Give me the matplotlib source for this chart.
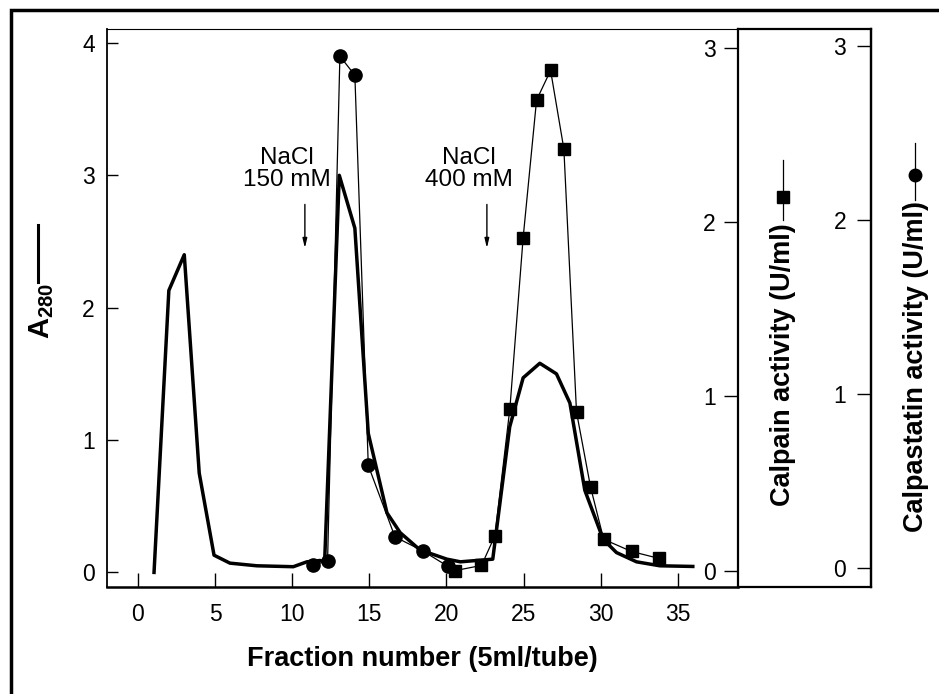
import matplotlib
matplotlib.use("Agg")
import matplotlib.pyplot as plt
from matplotlib.lines import Line2D
from matplotlib.patches import Rectangle

plt.rcParams['font.family'] = ['Liberation Sans', 'DejaVu Sans']
plt.rcParams['mathtext.fontset'] = 'custom'
plt.rcParams['mathtext.rm'] = 'Liberation Sans'
plt.rcParams['mathtext.bf'] = 'Liberation Sans:bold'

# A280 (thick line)
a280_x = [1.04, 2.0, 3.0, 3.97, 4.93, 5.96, 7.7, 10.07, 10.95, 11.8, 12.1, 13.05,
          14.06, 14.93, 16.14, 17.0, 18.28, 20.03, 20.9, 23.0, 24.1, 24.97, 26.05,
          27.13, 28.0, 28.97, 30.16, 31.02, 32.32, 33.83, 35.97]
a280_y = [0.0, 2.13, 2.40, 0.75, 0.13, 0.07, 0.05, 0.043, 0.08, 0.09, 0.08, 3.0,
          2.6, 1.05, 0.45, 0.30, 0.17, 0.10, 0.08, 0.10, 1.10, 1.47, 1.58,
          1.50, 1.28, 0.62, 0.25, 0.15, 0.08, 0.05, 0.045]

# calpain activity (squares)
calpain_x = [20.54, 22.27, 23.14, 24.11, 24.97, 25.84, 26.75, 27.61, 28.43, 29.34,
             30.19, 32.0, 33.79]
calpain_y = [0.0, 0.03, 0.20, 0.93, 1.91, 2.70, 2.87, 2.42, 0.91, 0.48,
             0.18, 0.11, 0.07]

# calpastatin activity (circles)
calpastatin_x = [11.36, 12.29, 13.09, 14.06, 14.93, 16.66, 18.45, 20.11]
calpastatin_y = [0.02, 0.04, 2.94, 2.83, 0.59, 0.18, 0.10, 0.01]

# NaCl steps: (fraction, label)
nacl_steps = [(10.82, "NaCl\n150 mM"), (22.62, "NaCl\n400 mM")]

A280_LIM = (-0.108, 4.103)
CALPAIN_LIM = (-0.092, 3.106)
CALPASTATIN_LIM = (-0.106, 3.094)

W, H = 939, 694


def fx(px):
    return px / W


def fy(py):
    return 1 - py / H


fig = plt.figure(figsize=(9.39, 6.94), dpi=100)

# outer frame of the figure
fig.add_artist(Rectangle((fx(10.5), -0.1), 1.2, fy(10) + 0.1, fill=False,
                         lw=2.5, color='k', transform=fig.transFigure))

L, R, T, B = 107.3, 738, 29.3, 586.7
ax = fig.add_axes([fx(L), fy(B), fx(R) - fx(L), fy(T) - fy(B)])
ax.plot(a280_x, a280_y, color='k', lw=2.5)
ax.set_xlim(-1.99, 38.9)
ax.set_ylim(*A280_LIM)
ax.set_xticks(range(0, 36, 5))
ax.set_yticks(range(0, 5))
ax.tick_params(axis='x', direction='in', length=10, width=1, pad=12, labelsize=16.5)
ax.tick_params(axis='y', direction='in', length=8, width=1, pad=9, labelsize=16.5)
ax.spines['right'].set_visible(False)
ax.spines['top'].set_linewidth(0.8)
ax.spines['left'].set_linewidth(1.3)
ax.spines['bottom'].set_linewidth(1.8)
ax.set_xlabel("Fraction number (5ml/tube)", fontsize=19.5, fontweight='bold',
              labelpad=14)

for frac, label in nacl_steps:
    ax.annotate('', xy=(frac, 2.45), xytext=(frac, 2.78),
                arrowprops=dict(arrowstyle='-|>,head_length=0.55,head_width=0.13',
                                lw=1, color='k', shrinkA=0, shrinkB=0))
    ax.text(frac - 1.16, 3.05, label, ha='center', va='center', fontsize=17.5,
            linespacing=1.0)

# data axes for the two activities (scales shown on the right)
ax_cp = ax.twinx()
ax_cp.set_axis_off()
ax_cp.set_ylim(*CALPAIN_LIM)
ax_cp.plot(calpain_x, calpain_y, color='k', lw=0.9, marker='s', ms=9)

ax_cs = ax.twinx()
ax_cs.set_axis_off()
ax_cs.set_ylim(*CALPASTATIN_LIM)
ax_cs.plot(calpastatin_x, calpastatin_y, color='k', lw=0.9, marker='o', ms=9.5)

# box holding the calpain and calpastatin scales
R2 = 871
ax_box = fig.add_axes([fx(R), fy(B), fx(R2) - fx(R), fy(T) - fy(B)])
ax_box.set_ylim(*CALPAIN_LIM)
ax_box.set_xticks([])
ax_box.set_yticks(range(0, 4))
ax_box.tick_params(axis='y', direction='out', length=10, width=1, pad=6, labelsize=16.5)
for s in ax_box.spines.values():
    s.set_linewidth(1.6)

ax_box2 = ax_box.twinx()
ax_box2.set_ylim(*CALPASTATIN_LIM)
ax_box2.yaxis.set_ticks_position('left')
ax_box2.spines['left'].set_position(('axes', 1.0))
for side in ['right', 'top', 'bottom']:
    ax_box2.spines[side].set_visible(False)
ax_box2.spines['left'].set_linewidth(1.6)
ax_box2.set_yticks(range(0, 4))
ax_box2.tick_params(axis='y', direction='out', length=10, width=1, pad=8, labelsize=16.5)

# axis titles with their key marks
fig.text(fx(42), fy(311), r'$\mathbf{A_{280}}$', rotation=90, ha='center',
         va='center', fontsize=21)
fig.add_artist(Line2D([fx(38), fx(38)], [fy(225), fy(282)], color='k', lw=2.2))

fig.text(fx(783.5), fy(364.5), "Calpain activity (U/ml)", rotation=90, ha='center',
         va='center', fontsize=19.5, fontweight='bold')
fig.add_artist(Line2D([fx(783), fx(783)], [fy(160), fy(220)], color='k', lw=0.9))
fig.add_artist(Line2D([fx(783)], [fy(197)], color='k', marker='s', ms=9))

fig.text(fx(916), fy(366.5), "Calpastatin activity (U/ml)", rotation=90, ha='center',
         va='center', fontsize=19.5, fontweight='bold')
fig.add_artist(Line2D([fx(915), fx(915)], [fy(143), fy(200)], color='k', lw=0.9))
fig.add_artist(Line2D([fx(915)], [fy(175)], color='k', marker='o', ms=9))

fig.savefig("out.png", dpi=100)
